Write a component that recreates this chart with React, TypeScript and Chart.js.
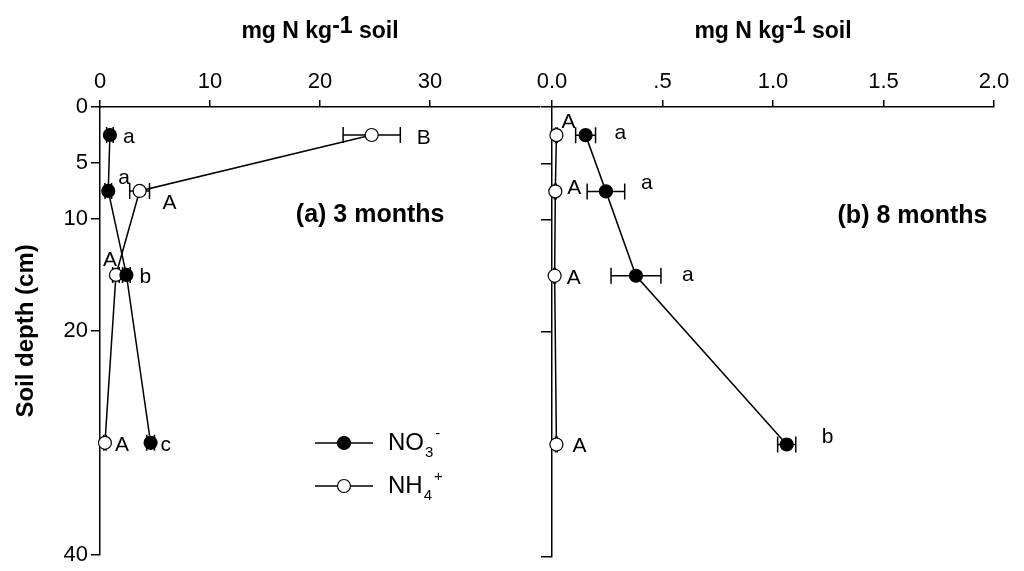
import React, { useEffect, useRef } from 'react';
import { Chart, registerables } from 'chart.js';

Chart.register(...registerables);

// ---------- data ----------
const depths = [2.5, 7.5, 15, 30];
const depthTicks = [0, 5, 10, 20, 40];
const xTicks3m = [0, 10, 20, 30];
const xTicks8m = [0, 0.5, 1.0, 1.5, 2.0];

const no3_3m = [0.9, 0.75, 2.4, 4.6];
const no3_3m_err = [0.3, 0.3, 0.35, 0.35];
const nh4_3m = [24.7, 3.6, 1.45, 0.45];
const nh4_3m_err = [2.6, 0.9, 0.3, 0.1];

const no3_8m = [0.152, 0.244, 0.38, 1.062];
const no3_8m_err = [0.045, 0.085, 0.113, 0.041];
const nh4_8m = [0.02, 0.015, 0.012, 0.02];
const nh4_8m_err = [0.004, 0.004, 0.004, 0.004];

const no3Letters3m = ['a', 'a', 'b', 'c'];
const nh4Letters3m = ['B', 'A', 'A', 'A'];
const no3Letters8m = ['a', 'a', 'a', 'b'];
const nh4Letters8m = ['A', 'A', 'A', 'A'];

// letter offsets in px (style only)
const no3Off3m = [[13, 8], [10, -7], [13, 8], [10, 8]];
const nh4Off3m = [[45, 9], [23, 18], [-13, -9], [10, 8]];
const no3Off8m = [[29, 4], [35, -2], [46, 5], [35, -2]];
const nh4Off8m = [[5, -7], [12, 3], [12, 8], [16, 7]];

const FONT = '"Liberation Sans", Arial, Helvetica, sans-serif';

function makeConfig(p: any) {
  const errPlugin = {
    id: 'errbars_' + p.id,
    beforeDatasetsDraw(chart: any) {
      const ctx = chart.ctx;
      const xs = chart.scales.x;
      const ys = chart.scales.y;
      ctx.save();
      ctx.strokeStyle = '#000';
      ctx.lineWidth = 1.5;
      const series = [
        [p.no3, p.no3Err],
        [p.nh4, p.nh4Err],
      ];
      series.forEach(([vals, errs]: any) => {
        vals.forEach((v: number, i: number) => {
          const y = ys.getPixelForValue(depths[i]);
          const x1 = xs.getPixelForValue(v - errs[i]);
          const x2 = xs.getPixelForValue(v + errs[i]);
          ctx.beginPath();
          ctx.moveTo(x1, y);
          ctx.lineTo(x2, y);
          ctx.moveTo(x1, y - 8);
          ctx.lineTo(x1, y + 8);
          ctx.moveTo(x2, y - 8);
          ctx.lineTo(x2, y + 8);
          ctx.stroke();
        });
      });
      ctx.restore();
    },
    afterDraw(chart: any) {
      const ctx = chart.ctx;
      const xs = chart.scales.x;
      const ys = chart.scales.y;
      const area = chart.chartArea;
      ctx.save();
      ctx.fillStyle = '#000';
      // letters
      ctx.font = `21px ${FONT}`;
      ctx.textBaseline = 'alphabetic';
      ctx.textAlign = 'left';
      const lab = (vals: number[], letters: string[], offs: number[][]) => {
        vals.forEach((v, i) => {
          const x = xs.getPixelForValue(v);
          const y = ys.getPixelForValue(depths[i]);
          ctx.fillText(letters[i], x + offs[i][0], y + offs[i][1]);
        });
      };
      lab(p.no3, p.no3Letters, p.no3Off);
      lab(p.nh4, p.nh4Letters, p.nh4Off);

      // panel label
      ctx.font = `bold 25px ${FONT}`;
      ctx.fillText(p.panelLabel, xs.getPixelForValue(p.panelLabelX), ys.getPixelForValue(10.3));

      // x-axis title with superscript
      const cx = (area.left + area.right) / 2;
      const base = 38;
      ctx.font = `bold 23px ${FONT}`;
      const t1 = 'mg N kg';
      const t2 = '-1';
      const t3 = ' soil';
      const w1 = ctx.measureText(t1).width;
      const w2 = ctx.measureText(t2).width;
      const w3 = ctx.measureText(t3).width;
      const x0 = cx - (w1 + w2 + w3) / 2;
      ctx.fillText(t1, x0, base);
      ctx.fillText(t2, x0 + w1, base - 5);
      ctx.fillText(t3, x0 + w1 + w2, base);

      // legend
      if (p.legend) {
        const lx = area.left + 215;
        const rows = [
          { y: 443, fill: '#000', main: 'NO', sub: '3', sup: '-' },
          { y: 486, fill: '#fff', main: 'NH', sub: '4', sup: '+' },
        ];
        rows.forEach((r) => {
          ctx.strokeStyle = '#000';
          ctx.lineWidth = 1.5;
          ctx.beginPath();
          ctx.moveTo(lx, r.y);
          ctx.lineTo(lx + 58, r.y);
          ctx.stroke();
          ctx.beginPath();
          ctx.arc(lx + 29, r.y, 6.5, 0, Math.PI * 2);
          ctx.fillStyle = r.fill;
          ctx.fill();
          ctx.lineWidth = 1.2;
          ctx.stroke();
          ctx.fillStyle = '#000';
          const tx = lx + 73;
          ctx.font = `24px ${FONT}`;
          ctx.fillText(r.main, tx, r.y + 7);
          const mw = ctx.measureText(r.main).width;
          ctx.font = `15px ${FONT}`;
          ctx.fillText(r.sub, tx + mw + 1, r.y + 14);
          const sw = ctx.measureText(r.sub).width;
          ctx.fillText(r.sup, tx + mw + sw + 3, r.y - 5);
        });
      }
      ctx.restore();
    },
  };

  const pointDs = (label: string, vals: number[], fill: string) => ({
    label,
    data: vals.map((v, i) => ({ x: v, y: depths[i] })),
    showLine: true,
    borderColor: '#000',
    borderWidth: 1.5,
    pointRadius: 6.5,
    pointHoverRadius: 6.5,
    pointBackgroundColor: fill,
    pointBorderColor: '#000',
    pointBorderWidth: 1.2,
    clip: false,
  });

  return {
    type: 'scatter',
    data: {
      datasets: [pointDs('NO3-', p.no3, '#000'), pointDs('NH4+', p.nh4, '#fff')],
    },
    options: {
      responsive: false,
      animation: false,
      events: [],
      layout: { padding: { left: 0, top: 0, right: p.padRight, bottom: 14 } },
      plugins: { legend: { display: false }, tooltip: { enabled: false }, title: { display: false } },
      scales: {
        x: {
          type: 'linear',
          position: 'top',
          min: p.xMin,
          max: p.xMax,
          afterBuildTicks(scale: any) {
            scale.ticks = p.xTicks.map((v: number) => ({ value: v }));
          },
          afterFit(scale: any) {
            scale.height = 107;
          },
          ticks: {
            color: '#000',
            font: { family: FONT, size: 22 },
            padding: 5,
            maxRotation: 0,
            autoSkip: false,
            callback: p.xFmt,
          },
          grid: {
            drawOnChartArea: false,
            drawTicks: true,
            tickLength: 7,
            color: '#000',
            lineWidth: 1.5,
          },
          border: { display: true, color: '#000', width: 1.5 },
        },
        y: {
          type: 'linear',
          position: 'left',
          reverse: true,
          min: 0,
          max: 40,
          afterBuildTicks(scale: any) {
            scale.ticks = depthTicks.map((v) => ({ value: v }));
          },
          afterFit(scale: any) {
            scale.width = p.yWidth;
          },
          title: {
            display: p.yTitle,
            text: 'Soil depth (cm)',
            color: '#000',
            font: { family: FONT, size: 24, weight: 'bold' },
            padding: { top: 12, bottom: 4 },
          },
          ticks: {
            display: p.yLabels,
            color: '#000',
            font: { family: FONT, size: 22 },
            padding: 3,
            autoSkip: false,
          },
          grid: {
            drawOnChartArea: false,
            drawTicks: true,
            tickLength: p.yTickLen,
            color: '#000',
            lineWidth: 1.5,
          },
          border: { display: true, color: '#000', width: 1.5 },
        },
      },
    },
    plugins: [errPlugin],
  };
}

const panelA = {
  id: 'a',
  no3: no3_3m,
  no3Err: no3_3m_err,
  nh4: nh4_3m,
  nh4Err: nh4_3m_err,
  no3Letters: no3Letters3m,
  nh4Letters: nh4Letters3m,
  no3Off: no3Off3m,
  nh4Off: nh4Off3m,
  panelLabel: '(a) 3 months',
  panelLabelX: 17.8,
  legend: true,
  xMin: 0,
  xMax: 40,
  xTicks: xTicks3m,
  xFmt: (v: any) => String(v),
  padRight: 1024 - 540,
  yWidth: 100,
  yTitle: true,
  yLabels: true,
  yTickLen: 9,
};

const panelB = {
  id: 'b',
  no3: no3_8m,
  no3Err: no3_8m_err,
  nh4: nh4_8m,
  nh4Err: nh4_8m_err,
  no3Letters: no3Letters8m,
  nh4Letters: nh4Letters8m,
  no3Off: no3Off8m,
  nh4Off: nh4Off8m,
  panelLabel: '(b) 8 months',
  panelLabelX: 1.292,
  legend: false,
  xMin: 0,
  xMax: 2,
  xTicks: xTicks8m,
  xFmt: (v: any) => {
    const n = Number(v);
    if (n === 0) return '0.0';
    if (n < 1) return n.toFixed(1).replace(/^0/, '');
    return n.toFixed(1);
  },
  padRight: 1024 - 994,
  yWidth: 552,
  yTitle: false,
  yLabels: false,
  yTickLen: 11,
};

function Panel({ cfg }: { cfg: any }) {
  const ref = useRef<HTMLCanvasElement>(null);
  useEffect(() => {
    if (!ref.current) return;
    const chart = new Chart(ref.current, makeConfig(cfg) as any);
    return () => chart.destroy();
  }, [cfg]);
  return (
    <canvas
      ref={ref}
      width={1024}
      height={571}
      style={{ position: 'absolute', left: 0, top: 0, width: 1024, height: 571 }}
    />
  );
}

export default function App() {
  return (
    <div
      style={{
        position: 'absolute',
        left: 0,
        top: 0,
        width: 1024,
        height: 571,
        background: '#fff',
        overflow: 'hidden',
      }}
    >
      <Panel cfg={panelA} />
      <Panel cfg={panelB} />
    </div>
  );
}
